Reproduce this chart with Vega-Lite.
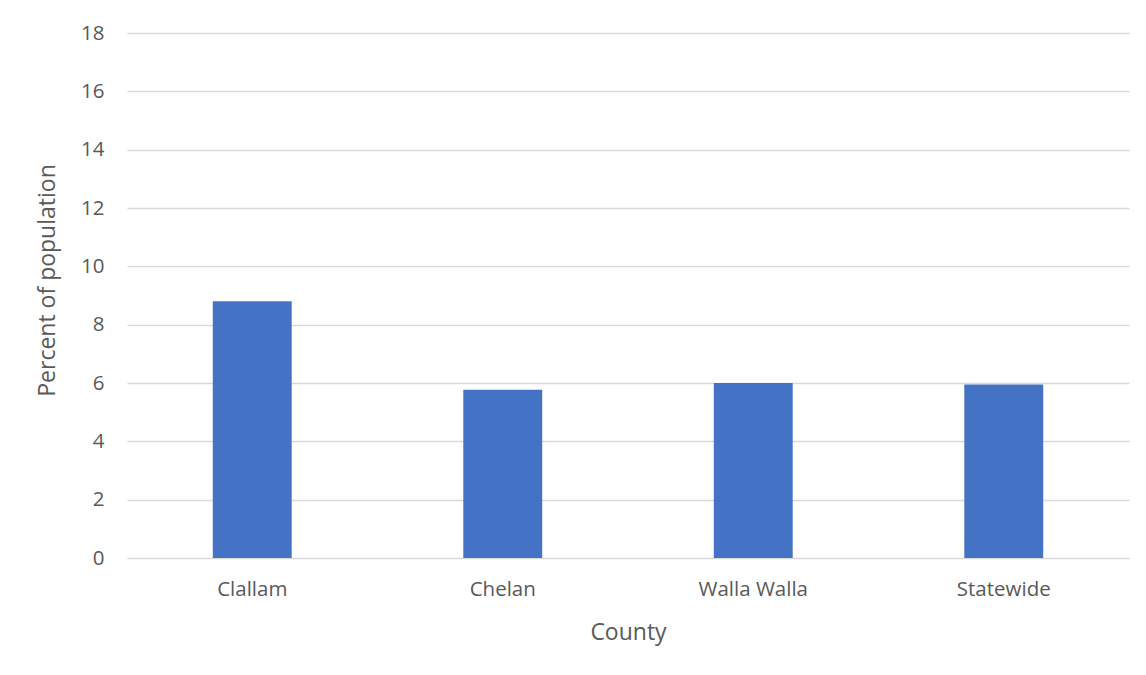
{
  "$schema": "https://vega.github.io/schema/vega-lite/v6.json",
  "width": 1002,
  "height": 525,
  "autosize": {"type": "none"},
  "padding": {"left": 127, "top": 33, "right": 17, "bottom": 117},
  "background": "white",
  "config": {
    "font": "Open Sans",
    "view": {"stroke": null},
    "axis": {
      "labelColor": "#595959",
      "titleColor": "#595959",
      "labelFont": "Open Sans",
      "titleFont": "Open Sans",
      "labelFontWeight": "normal",
      "titleFontWeight": "normal"
    }
  },
  "data": {
    "values": [
      {"county": "Clallam", "percent": 8.8},
      {"county": "Chelan", "percent": 5.77},
      {"county": "Walla Walla", "percent": 6.0},
      {"county": "Statewide", "percent": 5.95}
    ]
  },
  "mark": {"type": "bar", "color": "#4472C4"},
  "encoding": {
    "x": {
      "field": "county",
      "type": "nominal",
      "sort": null,
      "title": "County",
      "scale": {"paddingInner": 0.685, "paddingOuter": 0.3425},
      "axis": {
        "labelAngle": 0,
        "labelFontSize": 20.5,
        "titleFontSize": 23,
        "ticks": false,
        "domain": false,
        "labelPadding": 21,
        "titlePadding": 22
      }
    },
    "y": {
      "field": "percent",
      "type": "quantitative",
      "title": "Percent of population",
      "scale": {"domain": [0, 18], "nice": false},
      "axis": {
        "values": [0, 2, 4, 6, 8, 10, 12, 14, 16, 18],
        "labelFontSize": 20.5,
        "titleFontSize": 23,
        "titleY": 247,
        "ticks": false,
        "domain": false,
        "grid": true,
        "gridColor": "#D9D9D9",
        "gridWidth": 1.5,
        "labelPadding": 23,
        "titlePadding": 21
      }
    }
  }
}
